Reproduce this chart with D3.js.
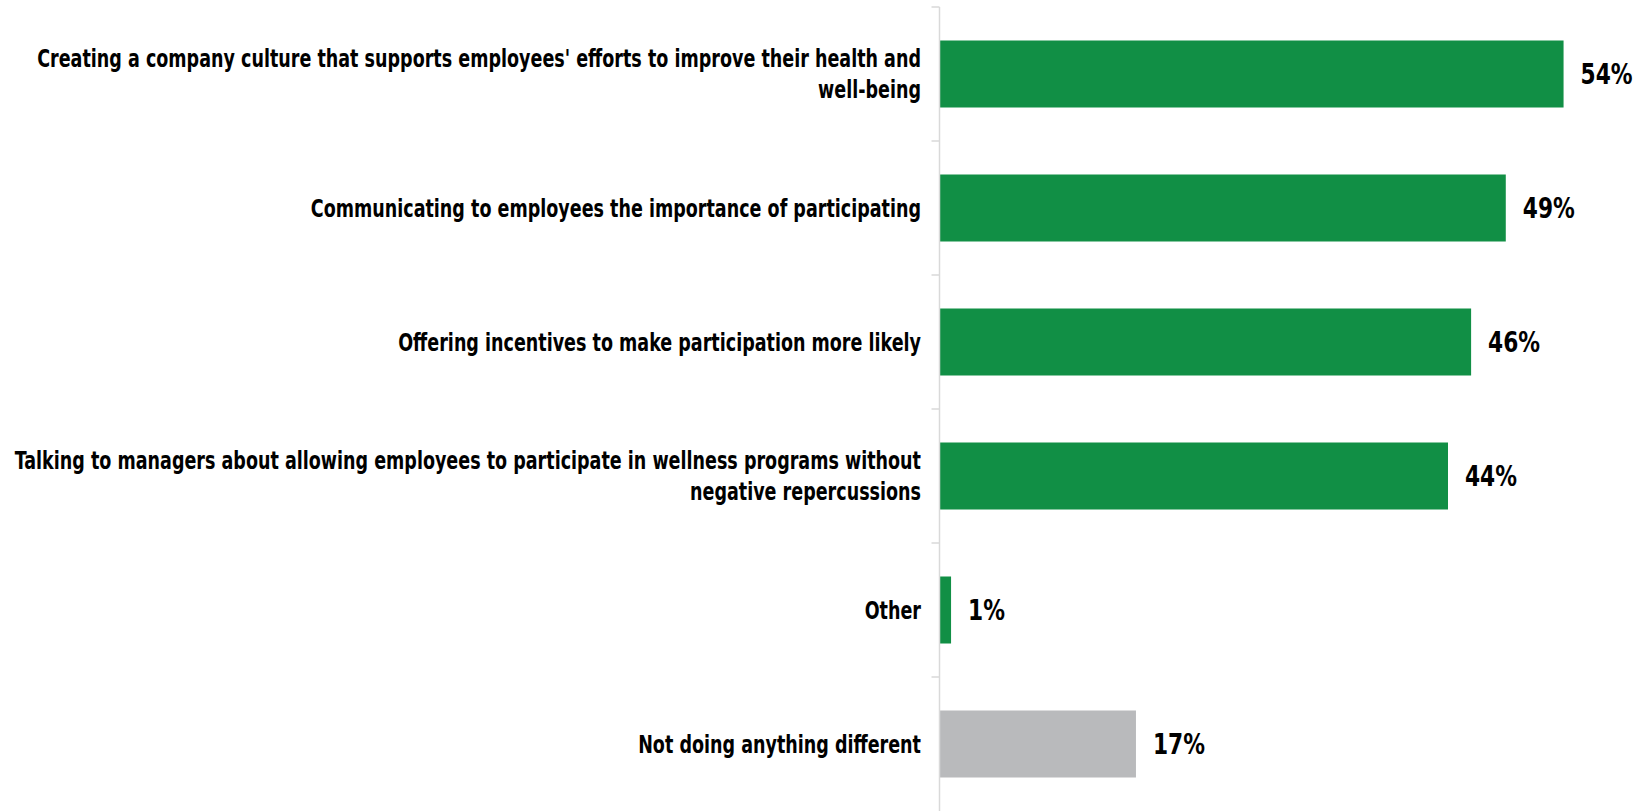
<!DOCTYPE html>
<html>
<head>
<meta charset="utf-8">
<script src="https://cdn.jsdelivr.net/npm/d3@7"></script>
<style>
  html, body { margin: 0; padding: 0; background: #ffffff; }
  svg { display: block; }
  text { font-family: "DejaVu Sans Condensed", "DejaVu Sans", sans-serif; font-stretch: condensed; font-weight: bold; fill: #000; }
</style>
</head>
<body>
<svg id="chart" width="1647" height="811"></svg>
<script>
// Survey responses: actions taken to encourage participation
const categories = [
  "Creating a company culture that supports employees' efforts to improve their health and\nwell-being",
  "Communicating to employees the importance of participating",
  "Offering incentives to make participation more likely",
  "Talking to managers about allowing employees to participate in wellness programs without\nnegative repercussions",
  "Other",
  "Not doing anything different"
];
const values = [54, 49, 46, 44, 1, 17];
const valueLabels = ["54%", "49%", "46%", "44%", "1%", "17%"];
const barColors = ["#118f45", "#118f45", "#118f45", "#118f45", "#118f45", "#b9babc"];

const svg = d3.select("#chart");
const axisX = 939.5;
const labelRight = 921;

const y = d3.scaleBand()
  .domain(categories)
  .range([7, 811])
  .paddingInner(0.5)
  .paddingOuter(0.25);

const x = d3.scaleLinear()
  .domain([0, 60])
  .range([axisX, axisX + 693.4]);

// bars
svg.append("g").selectAll("rect")
  .data(categories)
  .join("rect")
  .attr("x", axisX)
  .attr("y", d => y(d))
  .attr("width", (d, i) => x(values[i]) - axisX)
  .attr("height", y.bandwidth())
  .attr("fill", (d, i) => barColors[i]);

// vertical axis with ticks at band boundaries
const axisG = svg.append("g");
axisG.append("line")
  .attr("x1", axisX).attr("x2", axisX)
  .attr("y1", 7).attr("y2", 811)
  .attr("stroke", "#d9d9d9").attr("stroke-width", 1.5);
const step = y.step();
axisG.selectAll("line.tick")
  .data(categories.map((d, i) => y(d) - y.paddingOuter() * step))
  .join("line")
  .attr("class", "tick")
  .attr("x1", axisX - 8).attr("x2", axisX)
  .attr("y1", d => d).attr("y2", d => d)
  .attr("stroke", "#d9d9d9").attr("stroke-width", 1.5);

// narrow the label face horizontally so the longest line spans the left margin
function squeezeFactor(sample, size, target) {
  const probe = svg.append("text").attr("font-size", size).text(sample);
  const w = probe.node().getComputedTextLength();
  probe.remove();
  return Math.min(1, target / w);
}
const catSize = 24;
const kCat = squeezeFactor(categories[0].split("\n")[0], catSize, 884);
const valSize = 28;
const kVal = squeezeFactor(valueLabels[0], valSize, 52);

// category labels (right-aligned, may wrap onto two lines)
const lineH = 31;
const labelG = svg.append("g");
categories.forEach((c, i) => {
  const lines = c.split("\n");
  const cy = y(c) + y.bandwidth() / 2 - (lines.length - 1) * lineH / 2;
  const t = labelG.append("text")
    .attr("text-anchor", "end")
    .attr("font-size", catSize)
    .attr("transform", `translate(${labelRight},${cy}) scale(${kCat},1)`);
  lines.forEach((ln, j) => {
    t.append("tspan")
      .attr("x", 0)
      .attr("y", j * lineH)
      .attr("dy", "0.36em")
      .text(ln);
  });
});

// value labels
svg.append("g").selectAll("text")
  .data(categories)
  .join("text")
  .attr("font-size", valSize)
  .attr("transform", (d, i) => `translate(${x(values[i]) + 17},${y(d) + y.bandwidth() / 2}) scale(${kVal},1)`)
  .attr("dy", "0.36em")
  .text((d, i) => valueLabels[i]);
</script>
</body>
</html>
